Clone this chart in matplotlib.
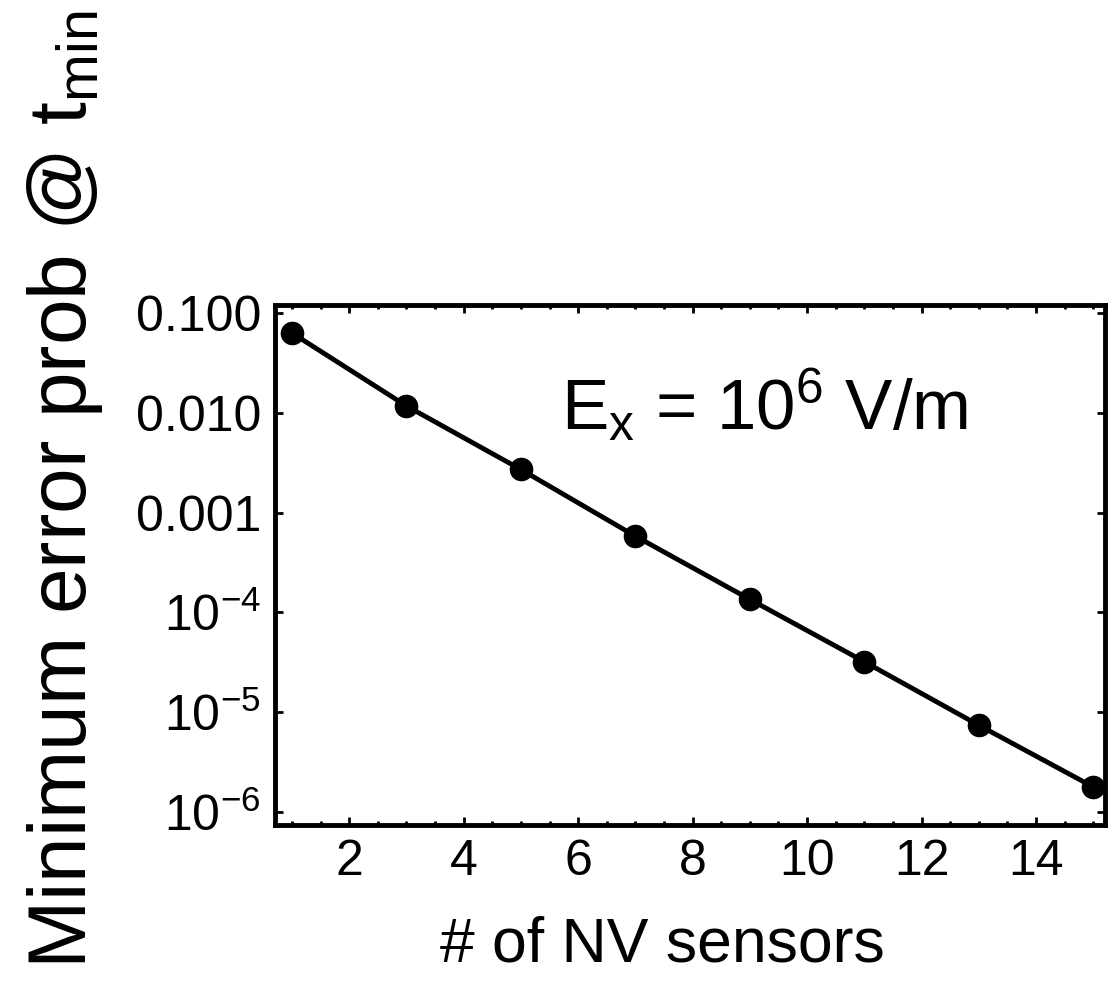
import numpy as np
import matplotlib
matplotlib.use("Agg")
from matplotlib import pyplot as plt
from matplotlib.ticker import FixedLocator, MultipleLocator, LogLocator, NullFormatter

plt.rcParams["font.family"] = ["Liberation Sans", "DejaVu Sans"]
plt.rcParams["mathtext.fontset"] = "custom"
plt.rcParams["mathtext.rm"] = "Liberation Sans"
plt.rcParams["mathtext.it"] = "Liberation Sans"
plt.rcParams["mathtext.default"] = "regular"

# data
n_sensors = [1, 3, 5, 7, 9, 11, 13, 15]
error_prob = [0.063, 0.0117, 0.0027, 5.8e-4, 1.35e-4, 3.2e-5, 7.4e-6, 1.78e-6]

x_ticks = [2, 4, 6, 8, 10, 12, 14]
y_ticks = [1e-1, 1e-2, 1e-3, 1e-4, 1e-5, 1e-6]
y_tick_labels = ["0.100", "0.010", "0.001", r"$10^{-4}$", r"$10^{-5}$", r"$10^{-6}$"]

fig = plt.figure(figsize=(11.08, 9.84), dpi=100)
ax = fig.add_axes([0.248, 0.1616, 0.749, 0.5284])

ax.plot(n_sensors, error_prob, color="black", lw=3.5, marker="o", ms=16)
ax.set_yscale("log")
ax.set_xlim(0.7, 15.2)
ax.set_ylim(7.4e-7, 0.12)

ax.xaxis.set_major_locator(FixedLocator(x_ticks))
ax.xaxis.set_minor_locator(MultipleLocator(0.5))
ax.yaxis.set_major_locator(FixedLocator(y_ticks))
ax.yaxis.set_minor_locator(LogLocator(base=10, subs=np.arange(2, 10)))
ax.yaxis.set_minor_formatter(NullFormatter())
ax.set_yticklabels(y_tick_labels)

ax.tick_params(which="both", direction="in", top=True, right=True, width=2)
ax.tick_params(which="major", length=6, pad=10, labelsize=36)
ax.tick_params(which="minor", length=3)
for s in ax.spines.values():
    s.set_linewidth(3.5)

ax.text(0.59, 0.76, r"E$_{\mathrm{x}}$ = 10$^{6}$ V/m", transform=ax.transAxes,
        fontsize=51, ha="center", va="baseline")

fig.text(65 / 1108, 1 - 490 / 984, r"Minimum error prob @ t$_{\mathrm{min}}$",
         rotation=90, fontsize=59, ha="center", va="center")
fig.text(662 / 1108, 1 - 962 / 984, "# of NV sensors", fontsize=45, ha="center", va="baseline")

fig.savefig("out.png", dpi=100)
